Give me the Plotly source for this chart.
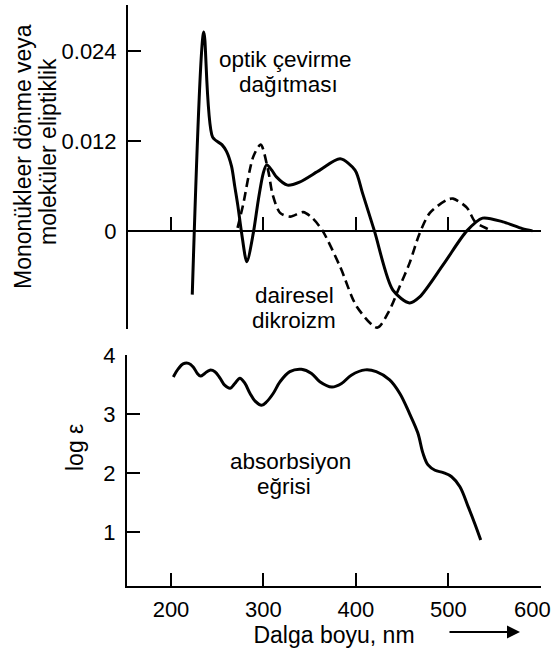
import plotly.graph_objects as go

# ---- data ----
# top panel, solid curve
solid_x = [223, 235.5, 245, 255, 260, 265.5, 269, 272.5, 276.4, 282, 289, 294.4, 299.8, 303.4, 309,
           314, 326, 339, 361, 383, 399, 407, 420, 440, 458, 469, 495, 520, 537, 559, 580, 591]
solid_y = [-0.0085, 0.0265, 0.0125, 0.0115, 0.0106, 0.0086, 0.0059, 0.0032, -0.0003, -0.0041,
           -0.0003, 0.0041, 0.0077, 0.0088, 0.0081, 0.0072, 0.0061, 0.0065, 0.0081, 0.0096, 0.0081,
           0.0051, 0.0, -0.0079, -0.0096, -0.0088, -0.0044, 0.0, 0.0017, 0.0012, 0.0003, 0.0]
# top panel, dashed curve
dash_x = [272, 278, 289, 297, 305, 310, 318, 329, 343, 353, 364, 383, 401, 423, 435, 447, 458,
          469, 480, 498, 505, 520, 529, 542, 548]
dash_y = [0.0004, 0.0035, 0.0099, 0.0115, 0.0081, 0.0048, 0.0024, 0.0019, 0.0025, 0.0017, 0.0,
          -0.0048, -0.0101, -0.0129, -0.0109, -0.0075, -0.0043, -0.0003, 0.0024, 0.0041, 0.0043,
          0.0031, 0.0012, 0.0003, 0.0]
# bottom panel, absorption curve
abs_x = [202.5, 208, 213, 219, 224, 228.5, 232, 236.5, 242, 247.5, 253, 258, 264, 269, 274.5,
         280, 285.5, 291, 298, 303.5, 310.5, 318, 328.5, 341, 352, 361, 374, 384.5, 395, 410,
         422, 436.5, 447.5, 458, 467, 472.5, 478, 485.5, 494.5, 503.5, 512.5, 521.5, 528.5, 535]
abs_y = [3.63, 3.77, 3.85, 3.86, 3.80, 3.69, 3.645, 3.69, 3.745, 3.72, 3.61, 3.49, 3.44, 3.52,
         3.61, 3.52, 3.35, 3.22, 3.15, 3.21, 3.35, 3.55, 3.72, 3.76, 3.69, 3.55, 3.46, 3.52, 3.66,
         3.75, 3.72, 3.58, 3.35, 3.01, 2.68, 2.34, 2.14, 2.05, 2.01, 1.94, 1.77, 1.43, 1.15, 0.87]

x_ticks = [200, 300, 400, 500, 600]
x_ticktext = ["200", "300", "400", "500", ""]   # "600" placed as a text so it stays inside the page
top_ticks = [-0.01307, 0, 0.012, 0.024, 0.0301]
top_ticktext = ["", "0", "0.012", "0.024", ""]
bot_ticks = [1, 2, 3, 4]

# ---- layout geometry ----
W, H = 555, 650
ML, MR, MT, MB = 127, 14, 5, 64
top_dom = [0.4423, 1.0]
bot_dom = [0.0, 0.3976]
top_range = [-0.01308, 0.03011]
bot_range = [0.09, 4.002]
x_range = [152.4, 600.2]
zero_pos = top_dom[0] + (0 - top_range[0]) / (top_range[1] - top_range[0]) * (top_dom[1] - top_dom[0])

FONT = "Liberation Sans, Arial, sans-serif"
TXT = 23
LBL = 22.5
TICK = 22

fig = go.Figure()
fig.add_trace(go.Scatter(x=solid_x, y=solid_y, mode="lines", xaxis="x", yaxis="y",
                         line=dict(color="black", width=3, shape="spline", smoothing=0.8)))
fig.add_trace(go.Scatter(x=dash_x, y=dash_y, mode="lines", xaxis="x", yaxis="y",
                         line=dict(color="black", width=2.6, dash="9px,5px", shape="spline", smoothing=0.8)))
fig.add_trace(go.Scatter(x=abs_x, y=abs_y, mode="lines", xaxis="x2", yaxis="y2",
                         line=dict(color="black", width=3, shape="spline", smoothing=1.0)))

axis_common = dict(showline=True, linecolor="black", linewidth=2, ticks="inside", ticklen=13,
                   tickwidth=2, tickcolor="black", showgrid=False, zeroline=False, automargin=False,
                   tickfont=dict(family=FONT, size=TICK, color="black"))

fig.update_layout(
    width=W, height=H, margin=dict(l=ML, r=MR, t=MT, b=MB, autoexpand=False),
    paper_bgcolor="white", plot_bgcolor="white", showlegend=False,
    font=dict(family=FONT, color="black"),
    xaxis=dict(axis_common, domain=[0, 1], range=x_range, anchor="free", position=zero_pos,
               tickvals=x_ticks, showticklabels=False),
    yaxis=dict(axis_common, domain=top_dom, range=top_range, anchor="free", position=0,
               tickvals=top_ticks, ticktext=top_ticktext, ticklabelstandoff=5),
    xaxis2=dict(axis_common, domain=[0, 1], range=x_range, anchor="y2", tickvals=x_ticks,
                ticktext=x_ticktext, ticklabelstandoff=3,
                title=dict(text="Dalga boyu, nm", font=dict(family=FONT, size=TXT), standoff=0)),
    yaxis2=dict(axis_common, domain=bot_dom, range=bot_range, anchor="x2",
                tickvals=bot_ticks, ticklabelstandoff=5),
)

def px_to_paper(px, py):
    return (px - ML) / (W - ML - MR), (H - MB - py) / (H - MT - MB)

def label(text, px, py, angle=0, size=LBL):
    x, y = px_to_paper(px, py)
    fig.add_annotation(text=text, x=x, y=y, xref="paper", yref="paper", showarrow=False,
                       textangle=angle, xanchor="center", yanchor="middle", borderpad=0,
                       font=dict(family=FONT, size=size, color="black"))

label("Mononükleer dönme veya", 23, 157, -90, TXT)
label("moleküler eliptiklik", 48, 152, -90, TXT)
label("log ε", 75, 448, -90, TXT)
label("optik çevirme", 285, 59)
label("dağıtması", 288.5, 84.5)
label("dairesel", 294, 295.5)
label("dikroizm", 294, 321)
label("absorbsiyon", 290, 461)
label("eğrisi", 284, 486.5)
label("600", 532.5, 609, 0, TICK)

# arrow next to the x-axis title
ax_, ay_ = px_to_paper(520, 632)
fig.add_annotation(x=ax_, y=ay_, xref="paper", yref="paper", text="", showarrow=True,
                   ax=-72, ay=0, arrowhead=2, arrowsize=1.3, arrowwidth=2, arrowcolor="black")

fig.write_html("out.html", config={"displayModeBar": False},
               post_script="document.body.style.margin='0';document.body.style.overflow='hidden';")
